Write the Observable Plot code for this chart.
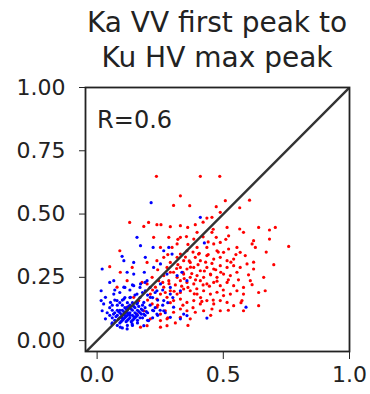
<!DOCTYPE html>
<html>
<head>
<meta charset="utf-8">
<script src="https://cdn.jsdelivr.net/npm/d3@7"></script>
<script src="https://cdn.jsdelivr.net/npm/@observablehq/plot@0.6"></script>
<style>
  body { margin: 0; background: #fff; font-family: "DejaVu Sans", sans-serif; }
  #wrap { position: relative; width: 370px; height: 394px; }
  #title { position: absolute; left: 85px; top: 5px; width: 264px; text-align: center;
           font-size: 28px; line-height: 35px; color: #222; white-space: nowrap; }
  #chart svg { display: block; }
</style>
</head>
<body>
<div id="wrap">
<div id="chart"></div>
<div id="title"></div>
</div>
<script>
const titleLines = ["Ka VV first peak to", "Ku HV max peak"];
const xTicks = [0, 0.5, 1.0];
const yTicks = [0, 0.25, 0.5, 0.75, 1.0];
const annotation = "R=0.6";
const diagonal = [[-0.05, -0.05], [1, 1]];

const redPts = [
[0.235,0.649],[0.409,0.649],[0.486,0.649],[0.330,0.572],[0.303,0.534],[0.367,0.533],[0.472,0.529],[0.508,0.553],
[0.565,0.525],[0.604,0.555],[0.488,0.507],[0.455,0.487],[0.435,0.484],[0.129,0.467],[0.185,0.451],[0.204,0.467],
[0.237,0.458],[0.253,0.458],[0.290,0.450],[0.330,0.454],[0.359,0.447],[0.389,0.458],[0.420,0.468],[0.515,0.447],
[0.565,0.441],[0.580,0.428],[0.640,0.447],[0.706,0.447],[0.683,0.437],[0.620,0.395],[0.683,0.401],[0.759,0.372],
[0.614,0.382],[0.627,0.368],[0.521,0.414],[0.472,0.408],[0.455,0.428],[0.396,0.428],[0.383,0.401],[0.354,0.411],
[0.330,0.408],[0.317,0.382],[0.297,0.368],[0.402,0.342],[0.435,0.368],[0.462,0.382],[0.488,0.388],[0.475,0.355],
[0.501,0.349],[0.521,0.362],[0.554,0.368],[0.567,0.349],[0.587,0.336],[0.541,0.322],[0.515,0.316],[0.488,0.329],
[0.462,0.322],[0.435,0.336],[0.409,0.316],[0.389,0.329],[0.369,0.309],[0.343,0.316],[0.317,0.329],[0.290,0.309],
[0.277,0.289],[0.330,0.289],[0.356,0.283],[0.383,0.289],[0.409,0.276],[0.435,0.289],[0.462,0.283],[0.488,0.296],
[0.515,0.289],[0.541,0.296],[0.567,0.289],[0.594,0.303],[0.620,0.283],[0.554,0.270],[0.528,0.257],[0.501,0.263],
[0.475,0.250],[0.449,0.263],[0.422,0.250],[0.396,0.257],[0.369,0.250],[0.343,0.263],[0.317,0.250],[0.303,0.270],
[0.330,0.237],[0.356,0.230],[0.383,0.224],[0.409,0.237],[0.435,0.224],[0.462,0.230],[0.488,0.217],[0.515,0.230],
[0.541,0.217],[0.607,0.237],[0.614,0.221],[0.666,0.197],[0.580,0.184],[0.554,0.197],[0.528,0.184],[0.501,0.178],
[0.475,0.191],[0.449,0.184],[0.422,0.197],[0.396,0.184],[0.369,0.197],[0.343,0.204],[0.317,0.184],[0.290,0.197],
[0.264,0.211],[0.251,0.184],[0.277,0.171],[0.303,0.158],[0.330,0.164],[0.356,0.151],[0.383,0.158],[0.409,0.145],
[0.435,0.158],[0.462,0.145],[0.488,0.158],[0.515,0.151],[0.541,0.138],[0.574,0.158],[0.640,0.138],[0.580,0.118],
[0.488,0.118],[0.455,0.125],[0.422,0.118],[0.389,0.112],[0.356,0.118],[0.330,0.125],[0.303,0.112],[0.270,0.118],
[0.251,0.105],[0.237,0.132],[0.218,0.145],[0.237,0.164],[0.211,0.184],[0.231,0.211],[0.198,0.224],[0.244,0.237],
[0.284,0.237],[0.264,0.257],[0.251,0.079],[0.277,0.086],[0.330,0.092],[0.369,0.086],[0.277,0.059],[0.251,0.053],
[0.198,0.059],[0.172,0.053],[0.211,0.086],[0.185,0.118],[0.165,0.158],[0.145,0.171],[0.119,0.132],[0.158,0.105],
[0.050,0.292],[0.092,0.270],[0.139,0.289],[0.198,0.309],[0.218,0.250],[0.178,0.230],[0.119,0.237],[0.237,0.316],
[0.264,0.329],[0.251,0.368],[0.284,0.408],[0.224,0.408],[0.090,0.355],[0.079,0.211],[0.396,0.368],[0.356,0.355],
[0.330,0.342],[0.34,0.27],[0.37,0.29],[0.40,0.30],[0.43,0.31],[0.45,0.26],[0.47,0.28],[0.39,0.24],
[0.42,0.22],[0.36,0.21],[0.33,0.19],[0.31,0.22],[0.35,0.33],[0.38,0.35],[0.44,0.34],[0.49,0.27],
[0.52,0.24],[0.50,0.20],[0.46,0.16],[0.41,0.17],[0.38,0.13],[0.34,0.14],[0.29,0.15],[0.27,0.19],
[0.26,0.23],[0.32,0.30],[0.29,0.27],[0.44,0.39],[0.48,0.35],[0.53,0.31],[0.56,0.24],[0.58,0.21],
[0.60,0.26],[0.62,0.31],[0.55,0.34],[0.51,0.40],[0.46,0.44],[0.42,0.41],[0.36,0.38],[0.32,0.40],
[0.28,0.34],[0.24,0.28],[0.22,0.20],[0.20,0.16],[0.24,0.14],[0.28,0.09],[0.31,0.07],[0.36,0.06],
[0.45,0.10],[0.52,0.12],[0.57,0.15],[0.64,0.19],[0.66,0.25],[0.70,0.30],[0.67,0.35],
[0.345,0.245],[0.375,0.265],[0.395,0.205],[0.425,0.275],[0.455,0.305],[0.365,0.315],[0.405,0.345],[0.335,0.215],
[0.305,0.195],[0.285,0.225],[0.315,0.285],[0.385,0.185],[0.415,0.155],[0.445,0.215],[0.475,0.235]
];

const bluePts = [
[0.214,0.545],[0.409,0.487],[0.425,0.386],[0.590,0.132],[0.435,0.089],[0.158,0.408],[0.172,0.375],[0.099,0.333],
[0.106,0.316],[0.020,0.283],[0.050,0.230],[0.066,0.237],[0.016,0.197],[0.016,0.158],[0.033,0.171],[0.066,0.184],
[0.106,0.211],[0.145,0.263],[0.187,0.270],[0.224,0.289],[0.251,0.303],[0.277,0.263],[0.317,0.257],[0.336,0.270],
[0.222,0.368],[0.264,0.355],[0.284,0.368],[0.297,0.342],[0.191,0.329],[0.145,0.309],[0.119,0.270],[0.356,0.237],
[0.330,0.197],[0.290,0.184],[0.264,0.158],[0.303,0.132],[0.343,0.105],[0.356,0.099],[0.330,0.086],[0.290,0.092],
[0.264,0.118],[0.237,0.105],[0.224,0.118],[0.204,0.079],[0.185,0.059],[0.139,0.066],[0.119,0.046],[0.092,0.053],
[0.059,0.066],[0.033,0.086],[0.020,0.118],[0.026,0.145],[0.053,0.151],[0.079,0.158],[0.106,0.164],[0.132,0.171],
[0.158,0.184],[0.191,0.197],[0.211,0.171],[0.237,0.197],[0.198,0.237],[0.172,0.224],[0.145,0.217],[0.251,0.224],
[0.158,0.145],[0.185,0.151],
[0.05,0.10],[0.06,0.09],[0.07,0.11],[0.07,0.08],[0.08,0.10],[0.08,0.12],[0.09,0.09],[0.09,0.07],
[0.10,0.10],[0.10,0.12],[0.10,0.08],[0.11,0.09],[0.11,0.11],[0.11,0.13],[0.12,0.10],[0.12,0.08],
[0.12,0.12],[0.13,0.09],[0.13,0.11],[0.13,0.14],[0.14,0.10],[0.14,0.12],[0.14,0.08],[0.15,0.11],
[0.15,0.13],[0.15,0.09],[0.16,0.10],[0.16,0.12],[0.16,0.15],[0.17,0.11],[0.17,0.09],[0.18,0.12],
[0.18,0.14],[0.19,0.10],[0.19,0.13],[0.20,0.11],[0.21,0.14],[0.22,0.12],[0.06,0.12],[0.06,0.14],
[0.05,0.13],[0.04,0.11],[0.08,0.14],[0.09,0.15],[0.10,0.16],[0.12,0.15],[0.11,0.17],[0.13,0.17],
[0.07,0.16],[0.09,0.12],[0.10,0.14],[0.12,0.13],[0.14,0.15],[0.16,0.08],[0.18,0.09],[0.20,0.08],
[0.22,0.09],[0.24,0.10],[0.23,0.13],[0.25,0.12],[0.26,0.14],[0.24,0.16],[0.22,0.17],[0.20,0.18],
[0.18,0.19],[0.17,0.17],[0.15,0.18],[0.13,0.20],[0.09,0.19],[0.07,0.20],[0.11,0.21],[0.14,0.22],
[0.17,0.21],[0.19,0.23],[0.21,0.21],[0.08,0.06],[0.10,0.05],[0.12,0.06],[0.14,0.06],[0.16,0.07],
[0.06,0.07],[0.09,0.11],[0.11,0.10],[0.12,0.11],[0.13,0.10],[0.10,0.09],[0.115,0.095],[0.105,0.115],
[0.125,0.105],[0.135,0.125],[0.095,0.105],[0.085,0.085],[0.145,0.095],[0.155,0.105],[0.165,0.135],[0.175,0.125],
[0.185,0.105],[0.075,0.095],[0.065,0.105],[0.27,0.11],[0.28,0.15],[0.30,0.17],[0.26,0.20],[0.23,0.19],
[0.29,0.21],[0.105,0.085],[0.125,0.085],[0.135,0.075],[0.115,0.075],[0.095,0.075],[0.145,0.085],[0.085,0.115],
[0.115,0.125],[0.125,0.135],[0.145,0.135],[0.165,0.115],[0.155,0.095],[0.175,0.105],[0.195,0.115]
];

document.getElementById("title").innerHTML = titleLines.join("<br>");

const chart = Plot.plot({
  width: 370,
  height: 394,
  marginTop: 87,
  marginBottom: 43,
  marginLeft: 85,
  marginRight: 21,
  style: { fontFamily: "DejaVu Sans, sans-serif", fontSize: "22px", color: "#222", background: "#fff", overflow: "visible" },
  x: { domain: [-0.046, 1.0], ticks: xTicks, tickFormat: d3.format(".1f"), tickSize: 8, tickPadding: 7, label: null },
  y: { domain: [-0.043, 1.0], ticks: yTicks, tickFormat: d3.format(".2f"), tickSize: 6, tickPadding: 14, label: null },
  marks: [
    Plot.dot(redPts, { x: d => d[0], y: d => d[1], r: 1.6, fill: "#ff0000", stroke: "none" }),
    Plot.dot(bluePts, { x: d => d[0], y: d => d[1], r: 1.6, fill: "#0000ff", stroke: "none" }),
    Plot.line(diagonal, { x: d => d[0], y: d => d[1], stroke: "#333", strokeWidth: 2.4, clip: true }),
    Plot.text([annotation], { x: 0, y: 0.841, text: d => d, textAnchor: "start", lineAnchor: "bottom", fontSize: 24, fill: "#222" }),
    Plot.frame({ stroke: "#222", strokeWidth: 1.8 })
  ]
});
document.getElementById("chart").appendChild(chart);
</script>
</body>
</html>
